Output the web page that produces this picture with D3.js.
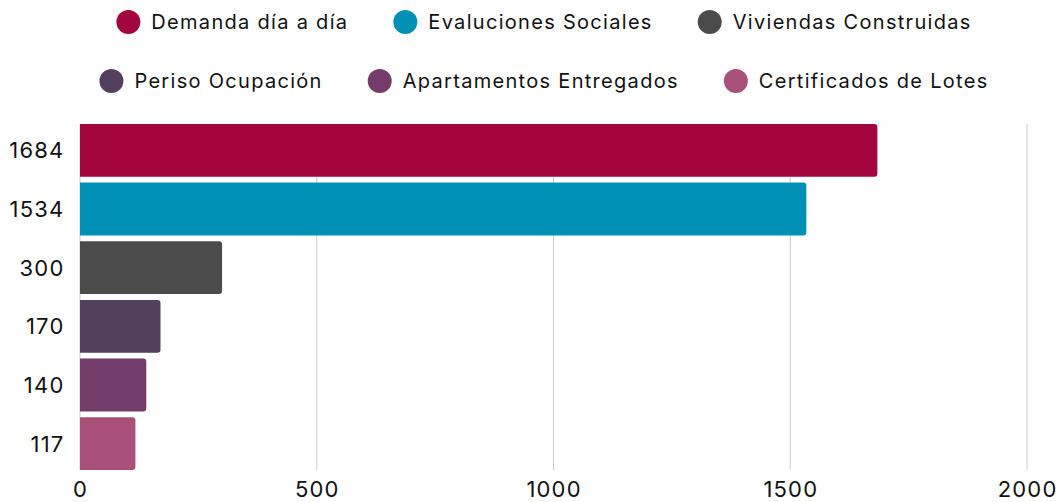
<!DOCTYPE html>
<html>
<head>
<meta charset="utf-8">
<script src="https://cdn.jsdelivr.net/npm/d3@7"></script>
<style>
  body { margin: 0; background: #fff; }
  text { font-family: Inter, "Noto Sans", sans-serif; fill: #111; }
</style>
</head>
<body>
<div id="chart"></div>
<script>
// chart data
var categories = ["Demanda día a día", "Evaluciones Sociales", "Viviendas Construidas",
  "Periso Ocupación", "Apartamentos Entregados", "Certificados de Lotes"];
var values = [1684, 1534, 300, 170, 140, 117];
var colors = ["#a3053f", "#008fb5", "#4b4b4b", "#533f5e", "#743c6a", "#a85079"];
var xTicks = [0, 500, 1000, 1500, 2000];
var legendRows = [[0, 1, 2], [3, 4, 5]];

var width = 1059, height = 502;
var margin = { top: 121, right: 32, bottom: 29, left: 80 };

var svg = d3.select("#chart").append("svg")
  .attr("width", width)
  .attr("height", height);

var x = d3.scaleLinear().domain([0, 2000]).range([margin.left, width - margin.right]);
var y = d3.scaleBand().domain(d3.range(values.length))
  .range([margin.top, height - margin.bottom])
  .paddingInner(0.1).paddingOuter(0.05);

var plotTop = y(0), plotBottom = y(values.length - 1) + y.bandwidth();

// grid lines
svg.append("g")
  .selectAll("line")
  .data(xTicks)
  .enter().append("line")
  .attr("x1", d => x(d)).attr("x2", d => x(d))
  .attr("y1", plotTop).attr("y2", plotBottom)
  .attr("stroke", "#cccccc").attr("stroke-width", 1);

// x tick labels
svg.append("g")
  .selectAll("text")
  .data(xTicks)
  .enter().append("text")
  .attr("x", d => x(d) + 0.6)
  .attr("y", 497)
  .attr("text-anchor", "middle")
  .style("font-size", "22px")
  .style("letter-spacing", "1.2px")
  .text(d => d);

// bars with rounded right end
function barPath(i) {
  var x0 = x(0), x1 = x(values[i]), y0 = y(i), h = y.bandwidth(), r = 3;
  return "M" + x0 + "," + y0 + "H" + (x1 - r) + "Q" + x1 + "," + y0 + " " + x1 + "," + (y0 + r) +
    "V" + (y0 + h - r) + "Q" + x1 + "," + (y0 + h) + " " + (x1 - r) + "," + (y0 + h) + "H" + x0 + "Z";
}
svg.append("g")
  .selectAll("path")
  .data(values)
  .enter().append("path")
  .attr("d", (d, i) => barPath(i))
  .attr("fill", (d, i) => colors[i]);

// y labels (values)
svg.append("g")
  .selectAll("text")
  .data(values)
  .enter().append("text")
  .attr("x", 64.5)
  .attr("y", (d, i) => y(i) + y.bandwidth() / 2)
  .attr("dy", "0.36em")
  .attr("text-anchor", "end")
  .style("font-size", "22px")
  .style("letter-spacing", "1.2px")
  .text(d => d);

// legend, centred rows
var legendY = [22, 81];
var cx = 544, r = 12, gapCircle = 11, gapItem = 45;
legendRows.forEach(function (row, ri) {
  var g = svg.append("g");
  var items = row.map(function (idx) {
    var t = g.append("text")
      .attr("y", legendY[ri])
      .attr("dy", "0.35em")
      .style("font-size", "20px")
      .style("letter-spacing", "1.3px")
      .text(categories[idx]);
    return { idx: idx, t: t, w: t.node().getComputedTextLength() };
  });
  var total = d3.sum(items, d => 2 * r + gapCircle + d.w) + gapItem * (items.length - 1);
  var pos = cx - total / 2;
  items.forEach(function (it) {
    g.append("circle")
      .attr("cx", pos + r).attr("cy", legendY[ri]).attr("r", r)
      .attr("fill", colors[it.idx]);
    it.t.attr("x", pos + 2 * r + gapCircle);
    pos += 2 * r + gapCircle + it.w + gapItem;
  });
});
</script>
</body>
</html>
